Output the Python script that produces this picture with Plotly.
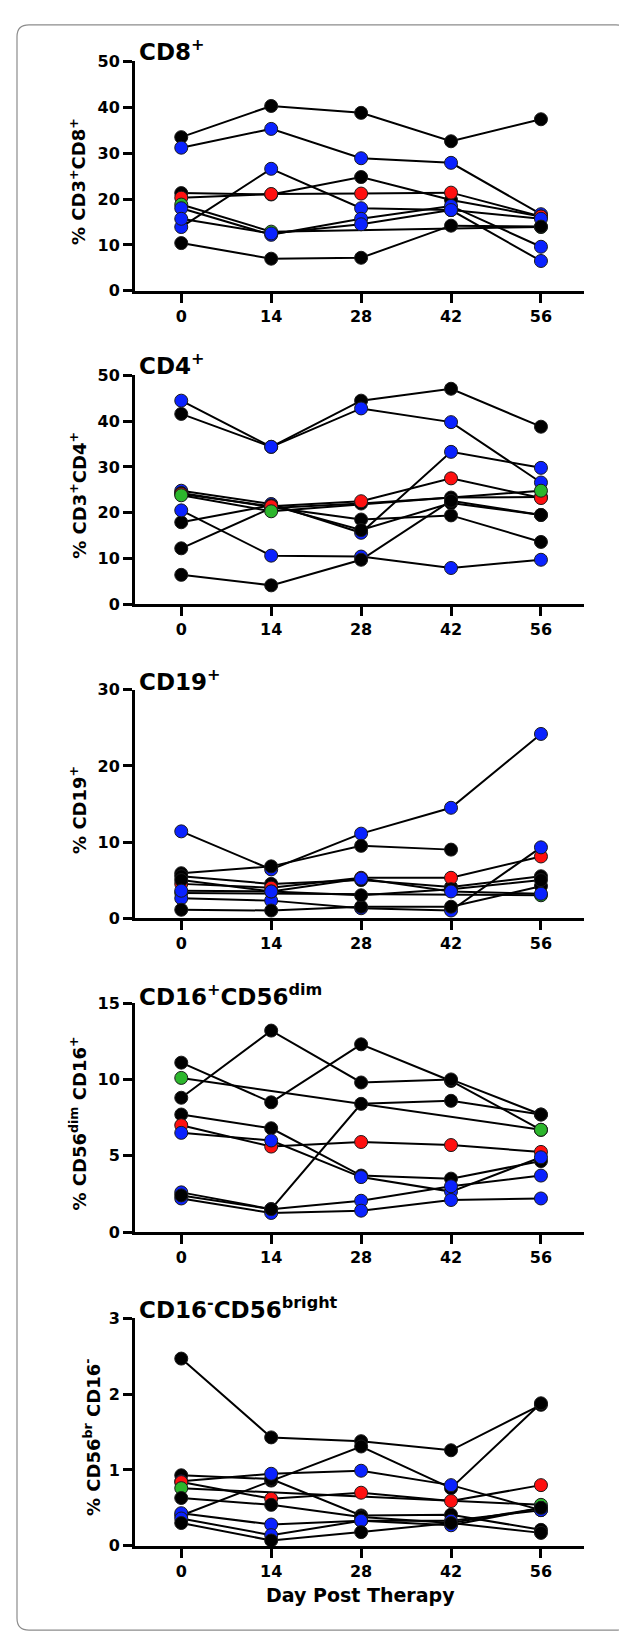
import plotly.graph_objects as go

days = [0, 14, 28, 42, 56]
x_ticks = [0, 14, 28, 42, 56]

# CD8+ panel
cd8_colors = ["black", "blue", "blue", "black", "red", "green", "blue", "blue", "black"]
cd8_values = [
    [33.5, 40.3, 38.8, 32.6, 37.4],
    [31.2, 35.3, 28.9, 27.9, 16.7],
    [13.9, 26.6, 18.0, 17.6, 6.5],
    [21.3, 21.0, 24.8, 19.8, 16.2],
    [20.3, 21.1, 21.2, 21.4, 16.2],
    [18.8, 12.9, None, None, 13.9],
    [18.0, 12.2, 15.7, 18.5, 9.6],
    [15.7, 12.5, 14.5, 17.6, 15.7],
    [10.4, 7.0, 7.2, 14.2, 14.0],
]

# CD4+ panel
cd4_colors = ["black", "blue", "blue", "black", "black", "black", "red", "green", "blue", "black"]
cd4_values = [
    [41.6, 34.4, 44.5, 47.1, 38.8],
    [44.5, 34.4, 42.8, 39.8, 26.6],
    [24.8, 21.9, 15.6, 33.3, 29.8],
    [24.3, 21.2, 18.5, 19.4, 13.6],
    [12.2, 21.0, 22.0, 23.3, 23.4],
    [17.9, 21.6, 16.2, 22.1, 19.5],
    [24.1, 21.4, 22.5, 27.5, 23.2],
    [23.8, 20.3, None, None, 24.8],
    [20.5, 10.6, 10.4, 7.9, 9.7],
    [6.4, 4.1, 9.7, 22.6, 19.5],
]

# CD19+ panel
cd19_colors = ["blue", "black", "black", "red", "green", "blue", "black", "black", "blue"]
cd19_values = [
    [11.4, 6.4, 11.1, 14.5, 24.2],
    [5.9, 6.8, 9.5, 9.0, None],
    [5.5, 4.5, 5.0, 4.1, 5.5],
    [4.5, 4.0, 5.3, 5.3, 8.1],
    [3.3, None, None, None, 3.0],
    [2.6, 2.3, 1.3, 1.0, 9.3],
    [1.1, 1.0, 1.5, 1.5, 4.2],
    [5.0, 3.5, 3.0, 3.8, 5.0],
    [3.6, 3.5, 5.2, 3.5, 3.2],
]

# CD16+CD56dim panel
nkdim_colors = ["black", "black", "green", "black", "red", "blue", "blue", "blue", "black"]
nkdim_values = [
    [11.1, 8.5, 12.3, 9.9, 6.7],
    [8.8, 13.2, 9.8, 10.0, 7.7],
    [10.1, None, None, None, 6.7],
    [7.7, 6.8, 3.7, 3.5, 4.65],
    [7.0, 5.6, 5.9, 5.7, 5.25],
    [6.5, 6.0, 3.6, 2.65, 4.9],
    [2.6, 1.5, 2.05, 3.0, 3.7],
    [2.2, 1.25, 1.4, 2.1, 2.2],
    [2.4, 1.5, 8.4, 8.6, 7.7],
]

# CD16-CD56bright panel
nkbr_colors = ["black", "black", "black", "blue", "red", "green", "black", "blue", "blue", "black"]
nkbr_values = [
    [2.47, 1.43, 1.38, 1.26, 1.86],
    [0.40, 0.86, 1.31, 0.76, 1.88],
    [0.93, 0.88, 0.40, 0.41, 0.21],
    [0.85, 0.95, 0.99, 0.80, 0.47],
    [0.84, 0.62, 0.70, 0.59, 0.80],
    [0.76, None, None, None, 0.54],
    [0.63, 0.54, 0.38, 0.30, 0.17],
    [0.43, 0.28, 0.33, 0.27, 0.50],
    [0.36, 0.14, 0.33, 0.33, 0.47],
    [0.30, 0.07, 0.18, 0.30, 0.50],
]

panel_titles = ["CD8<sup>+</sup>", "CD4<sup>+</sup>", "CD19<sup>+</sup>",
                "CD16<sup>+</sup>CD56<sup>dim</sup>", "CD16<sup>-</sup>CD56<sup>bright</sup>"]
y_titles = ["% CD3<sup>+</sup>CD8<sup>+</sup>", "% CD3<sup>+</sup>CD4<sup>+</sup>",
            "% CD19<sup>+</sup>", "% CD56<sup>dim</sup> CD16<sup>+</sup>",
            "% CD56<sup>br</sup> CD16<sup>-</sup>"]
y_ticks = [[0, 10, 20, 30, 40, 50], [0, 10, 20, 30, 40, 50], [0, 10, 20, 30],
           [0, 5, 10, 15], [0, 1, 2, 3]]
y_max = [50, 50, 30, 15, 3]
x_axis_title = "Day Post Therapy"

panels = [
    (cd8_colors, cd8_values),
    (cd4_colors, cd4_values),
    (cd19_colors, cd19_values),
    (nkdim_colors, nkdim_values),
    (nkbr_colors, nkbr_values),
]

W, H = 627, 1638
color_map = {"black": "#000000", "blue": "#0a22ff", "red": "#ff1010", "green": "#2cb62c"}
FONT = "DejaVu Sans"

# pixel geometry (top, bottom) of each panel's plot area
panel_px = [(45, 277), (362.7, 594), (680.7, 911.7), (997.7, 1229.3), (1316.7, 1546.7)]
title_px = [33, 351, 671, 989, 1306]
ytitle_x = [70, 70, 70, 70, 84]
x_left, x_right = 127, 576

fig = go.Figure()
annotations = []
for i, ((cols, vals), (top, bot)) in enumerate(zip(panels, panel_px)):
    n = i + 1
    xa = "x" if n == 1 else f"x{n}"
    ya = "y" if n == 1 else f"y{n}"
    for c, v in zip(cols, vals):
        fig.add_trace(go.Scatter(x=days, y=v, mode="lines", connectgaps=True,
                                 line=dict(color="black", width=2),
                                 xaxis=xa, yaxis=ya, showlegend=False,
                                 cliponaxis=False, hoverinfo="skip"))
    for c, v in zip(cols, vals):
        fig.add_trace(go.Scatter(x=days, y=v, mode="markers",
                                 marker=dict(color=color_map[c], size=13,
                                             line=dict(color="#1a1a1a", width=1)),
                                 xaxis=xa, yaxis=ya, showlegend=False,
                                 cliponaxis=False))
    dom_y = [1 - bot / H, 1 - top / H]
    axis_common = dict(showline=True, linecolor="black", linewidth=3,
                       ticks="outside", tickwidth=2.5, tickcolor="black", ticklen=9,
                       showgrid=False, zeroline=False,
                       tickfont=dict(family=FONT, size=16, color="black", weight="bold"))
    fig.layout[f"xaxis{'' if n == 1 else n}"] = dict(
        domain=[x_left / W, x_right / W], range=[-7.2, 62.7],
        tickvals=x_ticks, anchor=ya, **axis_common)
    fig.layout[f"yaxis{'' if n == 1 else n}"] = dict(
        domain=dom_y, range=[0, y_max[i]], tickvals=y_ticks[i], anchor=xa,
        **axis_common)
    annotations.append(dict(text=panel_titles[i], xref="paper", yref="paper",
                            x=129 / W, y=1 - title_px[i] / H, xanchor="left",
                            yanchor="middle", showarrow=False,
                            font=dict(family=FONT, size=23, color="black", weight="bold")))
    annotations.append(dict(text=y_titles[i], xref="paper", yref="paper",
                            x=ytitle_x[i] / W, y=1 - ((top + bot) / 2 + 6) / H,
                            xanchor="center", yanchor="middle", textangle=-90,
                            showarrow=False,
                            font=dict(family=FONT, size=18, color="black", weight="bold")))

annotations.append(dict(text=x_axis_title, xref="paper", yref="paper",
                        x=352 / W, y=1 - 1597 / H, xanchor="center", yanchor="middle",
                        showarrow=False,
                        font=dict(family=FONT, size=19, color="black", weight="bold")))

# rounded border
x0, x1, y0, y1, r = 9, 620, 8, 1632, 12
def px(x):
    return x / W
def py(y):
    return 1 - y / H
path = (f"M {px(x0 + r)},{py(y0)} L {px(x1 - r)},{py(y0)} "
        f"Q {px(x1)},{py(y0)} {px(x1)},{py(y0 + r)} "
        f"L {px(x1)},{py(y1 - r)} Q {px(x1)},{py(y1)} {px(x1 - r)},{py(y1)} "
        f"L {px(x0 + r)},{py(y1)} Q {px(x0)},{py(y1)} {px(x0)},{py(y1 - r)} "
        f"L {px(x0)},{py(y0 + r)} Q {px(x0)},{py(y0)} {px(x0 + r)},{py(y0)} Z")

fig.update_layout(
    width=W, height=H, margin=dict(l=0, r=0, t=0, b=0),
    paper_bgcolor="white", plot_bgcolor="white",
    annotations=annotations,
    shapes=[dict(type="path", path=path, xref="paper", yref="paper",
                 line=dict(color="#8c8c8c", width=1.2), layer="below")],
)

fig.write_html("out.html")
